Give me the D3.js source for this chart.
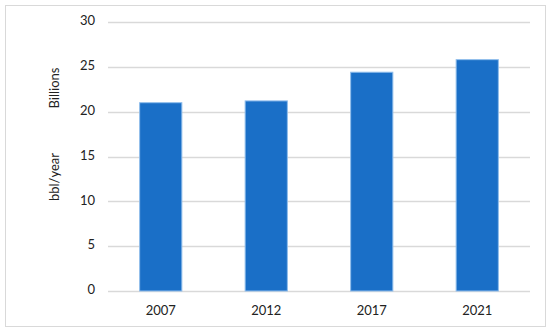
<!DOCTYPE html>
<html>
<head>
<meta charset="utf-8">
<script src="https://cdn.jsdelivr.net/npm/d3@7"></script>
<style>
  body { margin: 0; background: #fff; }
  text { font-family: Lato, "Open Sans", sans-serif; fill: #222; }
</style>
</head>
<body>
<svg id="chart"></svg>
<script>
const years = ['2007', '2012', '2017', '2021'];
const values = [21.0, 21.2, 24.4, 25.8];
const yTicks = [0, 5, 10, 15, 20, 25, 30];

const width = 550, height = 334;
const margin = { top: 22, right: 20, bottom: 43, left: 108 };

const svg = d3.select('#chart')
    .attr('width', width)
    .attr('height', height);

// outer frame
svg.append('rect')
    .attr('x', 5.5).attr('y', 5.5)
    .attr('width', 540).attr('height', 321)
    .attr('fill', 'none')
    .attr('stroke', '#d9d9d9');

const x = d3.scaleBand()
    .domain(years)
    .range([margin.left, width - margin.right - 0])
    .paddingInner(0.6)
    .paddingOuter(0.3);

const y = d3.scaleLinear()
    .domain([0, 30])
    .range([height - margin.bottom, margin.top]);

// grid lines
svg.append('g')
    .selectAll('line')
    .data(yTicks)
    .join('line')
    .attr('x1', margin.left)
    .attr('x2', width - margin.right)
    .attr('y1', d => Math.round(y(d)) + 0.5)
    .attr('y2', d => Math.round(y(d)) + 0.5)
    .attr('stroke', '#d9d9d9')
    .attr('stroke-width', 1.3);

// y tick labels
svg.append('g')
    .selectAll('text')
    .data(yTicks)
    .join('text')
    .attr('x', 95)
    .attr('y', d => y(d))
    .attr('text-anchor', 'end')
    .attr('dominant-baseline', 'middle')
    .attr('font-size', '13px')
    .text(d => d);

// bars
svg.append('g')
    .selectAll('rect')
    .data(values)
    .join('rect')
    .attr('x', (d, i) => x(years[i]))
    .attr('y', d => y(d))
    .attr('width', x.bandwidth())
    .attr('height', d => y(0) - y(d))
    .attr('fill', '#1a6fc7')
    .attr('stroke', '#8fbdec')
    .attr('stroke-width', 1);

// x labels
svg.append('g')
    .selectAll('text')
    .data(years)
    .join('text')
    .attr('x', d => x(d) + x.bandwidth() / 2)
    .attr('y', 312)
    .attr('text-anchor', 'middle')
    .attr('dominant-baseline', 'middle')
    .attr('font-size', '13px')
    .text(d => d);

// axis titles
svg.append('text')
    .attr('transform', 'translate(56,88) rotate(-90)')
    .attr('text-anchor', 'middle')
    .attr('dominant-baseline', 'middle')
    .attr('font-size', '13px')
    .text('Billions');

svg.append('text')
    .attr('transform', 'translate(56,177) rotate(-90)')
    .attr('text-anchor', 'middle')
    .attr('dominant-baseline', 'middle')
    .attr('font-size', '13px')
    .text('bbl/year');
</script>
</body>
</html>
